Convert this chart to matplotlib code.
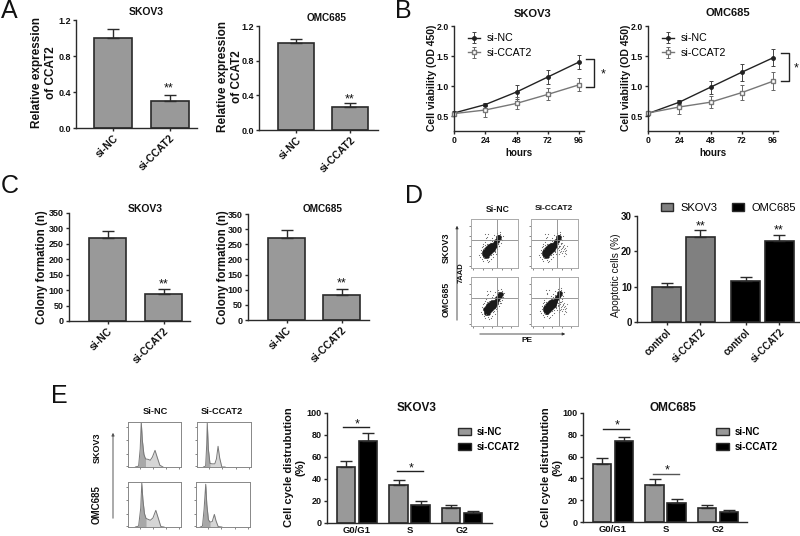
import matplotlib
matplotlib.use('Agg')
import matplotlib.pyplot as plt
import numpy as np
from matplotlib.lines import Line2D
from matplotlib.patches import Patch, FancyArrowPatch

plt.rcParams['font.family'] = ['Liberation Sans', 'DejaVu Sans']

W = 800
H = 536

# A
a_labels = ['si-NC', 'si-CCAT2']
a1_vals = [1.0, 0.30]
a1_errs = [0.10, 0.07]
a2_vals = [1.0, 0.27]
a2_errs = [0.05, 0.04]

# B
hours = [0, 24, 48, 72, 96]
b1_nc = [0.55, 0.69, 0.90, 1.15, 1.40]
b1_nc_err = [0.03, 0.03, 0.11, 0.11, 0.11]
b1_cc = [0.54, 0.60, 0.71, 0.86, 1.02]
b1_cc_err = [0.03, 0.12, 0.10, 0.10, 0.11]
b2_nc = [0.54, 0.73, 0.98, 1.23, 1.47]
b2_nc_err = [0.03, 0.03, 0.11, 0.14, 0.14]
b2_cc = [0.55, 0.65, 0.73, 0.89, 1.08]
b2_cc_err = [0.03, 0.11, 0.10, 0.13, 0.15]

# C
c1_vals = [270, 88]
c1_errs = [22, 15]
c2_vals = [270, 83]
c2_errs = [27, 21]

# D
d_labels = ['control', 'si-CCAT2', 'control', 'si-CCAT2']
d_vals = [10, 24, 11.5, 23]
d_errs = [1.1, 1.9, 1.3, 1.5]

# E
e_groups = ['G0/G1', 'S', 'G2']
e1_nc = [51, 35, 14]
e1_nc_err = [5, 4, 2]
e1_cc = [75, 16, 9]
e1_cc_err = [7, 4, 2]
e2_nc = [53, 34, 13]
e2_nc_err = [6, 5, 3]
e2_cc = [74, 17, 9]
e2_cc_err = [4, 4, 2]

# flow plots, read by eye in panel fractions
core_x = [.28, .30, .32, .34, .36, .38, .40, .42, .44, .46, .48, .50, .31, .33, .35, .37, .39, .41, .43, .45, .47,
          .52, .55, .58, .60, .27, .30, .34, .38, .42, .46, .36, .40, .44, .33, .29, .53, .57]
core_y = [.28, .31, .33, .30, .36, .34, .40, .38, .43, .41, .47, .45, .27, .36, .31, .39, .37, .43, .41, .46, .44,
          .51, .55, .60, .64, .33, .36, .40, .44, .47, .38, .29, .33, .37, .25, .25, .55, .63]
sparse_x = [.20, .24, .27, .30, .22, .34, .38, .42, .46, .52, .56, .60, .64, .68, .33, .37, .26, .49, .55, .44, .40,
            .48, .58, .62, .36, .29, .53, .30, .25, .66, .18, .23, .28, .33, .43, .47, .51, .55, .59, .63, .21, .35,
            .41, .45, .50, .54, .61, .31, .26, .39]
sparse_y = [.22, .18, .38, .46, .30, .20, .24, .18, .28, .34, .38, .45, .52, .66, .64, .70, .14, .58, .72, .62, .52,
            .68, .50, .70, .12, .54, .28, .70, .44, .58, .26, .42, .22, .16, .26, .22, .32, .42, .44, .60, .36, .48,
            .58, .56, .60, .66, .74, .62, .50, .15]
extra_x = [.60, .64, .68, .72, .62, .66, .70, .74, .60, .64, .68, .72, .58, .76, .66, .70, .62, .66, .70, .64, .68,
           .72, .60, .74]
extra_y = [.36, .38, .34, .40, .44, .30, .46, .36, .28, .48, .42, .30, .40, .44, .52, .24, .32, .40, .38, .35, .45,
           .34, .42, .28]

# cycle histograms, read by eye in panel fractions
h1_x = [.14, .20, .23, .25, .27, .30, .33, .38, .42, .46, .51, .55, .60, .66]
h1_y = [0, .02, .40, 1.0, .60, .28, .18, .17, .15, .22, .37, .22, .04, 0]
h2_x = [.12, .16, .18, .19, .21, .24, .28, .33, .36, .39, .42, .46, .52]
h2_y = [0, .02, .50, .98, .40, .08, .07, .07, .18, .46, .20, 0, 0]
h3_x = [.14, .20, .24, .26, .28, .31, .34, .38, .42, .47, .525, .57, .62, .68]
h3_y = [0, .02, .42, .98, .62, .30, .19, .17, .15, .20, .37, .20, .01, 0]
h4_x = [.08, .12, .15, .18, .20, .23, .26, .30, .34, .37, .41, .48]
h4_y = [0, .02, .40, .95, .50, .16, .11, .12, .28, .14, .01, 0]

GREY = '#999999'
DARK = '#2a2a2a'
fig = plt.figure(figsize=(8, 5.36), dpi=100)


def make_ax(x0, y0, x1, y1, tick_size=6.5):
    ax = fig.add_axes([x0 / W, 1 - y1 / H, (x1 - x0) / W, (y1 - y0) / H])
    ax.spines['top'].set_visible(False)
    ax.spines['right'].set_visible(False)
    ax.spines['left'].set_linewidth(1)
    ax.spines['bottom'].set_linewidth(1)
    ax.spines['left'].set_color(DARK)
    ax.spines['bottom'].set_color(DARK)
    ax.tick_params(length=2.5, width=1, pad=1.2, labelsize=tick_size, color=DARK, labelcolor='#111111')
    return ax


def txt(x, y, s, size=7, weight='bold', rot=0, ha='center', va='center', color='#111111'):
    fig.text(x / W, 1 - y / H, s, fontsize=size, fontweight=weight, rotation=rot, ha=ha, va=va,
             color=color, linespacing=1.15)


def pxline(xs, ys, color='#222222', lw=1):
    fig.add_artist(Line2D([x / W for x in xs], [1 - y / H for y in ys], color=color, lw=lw))


def arrow(p0, p1, color='#333333', lw=0.6):
    fig.add_artist(FancyArrowPatch((p0[0] / W, 1 - p0[1] / H), (p1[0] / W, 1 - p1[1] / H),
                                   transform=fig.transFigure, arrowstyle='-|>', mutation_scale=4,
                                   lw=lw, color=color))


def bold_ticks(ax):
    for t in ax.get_xticklabels() + ax.get_yticklabels():
        t.set_fontweight('bold')


def draw_bars(ax, pos, vals, errs, width, colors):
    ax.bar(pos, vals, width, color=colors, edgecolor=DARK, linewidth=1.2,
           yerr=[np.zeros(len(vals)), errs], capsize=4.5,
           error_kw={'elinewidth': 1, 'capthick': 1, 'ecolor': DARK})


def two_bars(box, c0, c1, bar_w, vals, errs, ymax, yticks):
    ax = make_ax(*box)
    unit = c1 - c0
    draw_bars(ax, [0, 1], vals, errs, bar_w / unit, GREY)
    ax.set_xlim((box[0] - c0) / unit, (box[2] - c0) / unit)
    ax.set_ylim(0, ymax)
    ax.set_yticks(yticks)
    ax.set_xticks([0, 1])
    ax.set_xticklabels(a_labels, rotation=45, ha='right', va='top', rotation_mode='anchor', fontsize=7.5)
    bold_ticks(ax)
    return ax


# panel A
ax = two_bars((76, 20, 197, 128), 113, 169.5, 38, a1_vals, a1_errs, 1.2, [0, 0.4, 0.8, 1.2])
ax = two_bars((259, 26, 378, 130), 296, 350, 36, a2_vals, a2_errs, 1.2, [0, 0.4, 0.8, 1.2])
txt(146, 12, 'SKOV3', 7.5)
txt(327, 18, 'OMC685', 7.2)
txt(44, 73, 'Relative expression\nof CCAT2', 8.5, rot=90)
txt(230, 77, 'Relative expression\nof CCAT2', 8.5, rot=90)
txt(169, 88, '**', 9, weight='normal')
txt(350, 99, '**', 9, weight='normal')


# panel B
def line_panel(box, nc, nc_err, cc, cc_err, legend_box):
    ax = make_ax(*box, tick_size=6.3)
    ax.errorbar(hours, nc, yerr=nc_err, color='#222222', lw=1, marker='o', ms=2.5, capsize=1.5,
                elinewidth=0.7, capthick=0.7, ecolor='#444444', clip_on=False, label='si-NC')
    ax.errorbar(hours, cc, yerr=cc_err, color='#777777', lw=1, marker='s', ms=3, mfc='white',
                capsize=1.5, elinewidth=0.7, capthick=0.7, ecolor='#666666', clip_on=False, label='si-CCAT2')
    ax.set_xlim(0, 99.8)
    ax.set_ylim(0.25, 2.0)
    ax.set_xticks(hours)
    ax.set_yticks([0.5, 1.0, 1.5, 2.0])
    ax.set_yticklabels(['0.5', '1.0', '1.5', '2.0'])
    bold_ticks(ax)
    ax.legend(loc='upper left', bbox_to_anchor=legend_box, frameon=False, fontsize=7.7, handlelength=1.15,
              handletextpad=0.6, labelspacing=0.45, borderpad=0, borderaxespad=0)


line_panel((454, 26, 584, 131), b1_nc, b1_nc_err, b1_cc, b1_cc_err, (0.105, 0.93))
line_panel((648, 26, 778, 131), b2_nc, b2_nc_err, b2_cc, b2_cc_err, (0.105, 0.93))
txt(533, 14, 'SKOV3', 8)
txt(728, 13, 'OMC685', 8)
txt(432, 78, 'Cell viability (OD 450)', 7.5, rot=90)
txt(626, 78, 'Cell viability (OD 450)', 7.5, rot=90)
txt(519, 153, 'hours', 7)
txt(713, 153, 'hours', 7)
pxline([586, 594, 594, 586], [59, 59, 87, 87])
pxline([781, 789, 789, 781], [53, 53, 81, 81])
txt(603, 74, '*', 9, weight='normal')
txt(796, 68, '*', 9, weight='normal')

# panel C
ax = two_bars((69, 213, 190, 321), 107.5, 163.5, 37.5, c1_vals, c1_errs, 350, range(0, 351, 50))
ax = two_bars((248, 214, 369, 320), 286.5, 341.5, 37, c2_vals, c2_errs, 350, range(0, 351, 50))
txt(145, 209, 'SKOV3', 7.5)
txt(323, 209, 'OMC685', 7.2)
txt(42, 267, 'Colony formation (n)', 8.3, rot=90)
txt(223, 267, 'Colony formation (n)', 8.3, rot=90)
txt(164, 284, '**', 9, weight='normal')
txt(342, 283, '**', 9, weight='normal')


# panel D, flow plots
def flow_panel(box, vx, hy, dx=0.0, dy=0.0, extra=False):
    ax = fig.add_axes([box[0] / W, 1 - box[3] / H, (box[2] - box[0]) / W, (box[3] - box[1]) / H])
    ax.scatter(np.array(core_x) + dx, np.array(core_y) + dy, s=11, color='#1a1a1a', lw=0)
    ax.scatter(np.array(sparse_x) + dx, np.array(sparse_y) + dy, s=0.7, color='#666666', lw=0)
    if extra:
        ax.scatter(extra_x, extra_y, s=0.7, color='#777777', lw=0)
    ax.axvline(vx, color='#888888', lw=0.6)
    ax.axhline(hy, color='#888888', lw=0.6)
    ax.set_xlim(0, 1)
    ax.set_ylim(0, 1)
    ax.set_xticks([0.05, 0.25, 0.45, 0.65, 0.85])
    ax.set_yticks([0.05, 0.25, 0.45, 0.65, 0.85])
    ax.tick_params(length=1.5, width=0.5, color='#555555', labelbottom=False, labelleft=False)
    for s in ax.spines.values():
        s.set_color('#aaaaaa')
        s.set_linewidth(0.7)


flow_panel((471, 219, 518, 268), .55, .57)
flow_panel((531, 219, 578, 268), .55, .57, extra=True)
flow_panel((471, 277, 518, 326), .55, .57, dx=.03, dy=.02)
flow_panel((531, 277, 578, 326), .60, .57, dx=.02, dy=.04, extra=True)
arrow((457, 323), (457, 223))
arrow((477, 334), (568, 334))
txt(498, 209, 'Si-NC', 6.2)
txt(554, 209, 'Si-CCAT2', 6)
txt(446, 248, 'SKOV3', 6.5, rot=90)
txt(446, 299, 'OMC685', 6.3, rot=90)
txt(461, 273, '7AAD', 5.5, rot=90)
txt(527, 341, 'PE', 6)

# panel D, bars
ax = make_ax(637, 216, 800, 322, tick_size=7)
d_pos = [-0.215, 0.215, 0.785, 1.215]
draw_bars(ax, d_pos, d_vals, d_errs, 29 / 79, ['#808080', '#808080', 'black', 'black'])
ax.set_xlim((637 - 683.5) / 79, (800 - 683.5) / 79)
ax.set_ylim(0, 30)
ax.set_yticks([0, 10, 20, 30])
ax.set_xticks(d_pos)
ax.set_xticklabels(d_labels, rotation=45, ha='right', va='top', rotation_mode='anchor', fontsize=7)
bold_ticks(ax)
ax.legend(handles=[Patch(fc='#808080', ec=DARK, label='SKOV3'), Patch(fc='black', ec=DARK, label='OMC685')],
          ncol=2, frameon=False, fontsize=8, loc='lower left', bbox_to_anchor=(24 / 163, 1.03), borderpad=0,
          borderaxespad=0, handlelength=1.1, handleheight=0.75, handletextpad=0.64, columnspacing=1.3)
txt(616, 275, 'Apoptotic cells (%)', 7.3, weight='normal', rot=90)
txt(701, 226, '**', 9, weight='normal')
txt(779, 230, '**', 9, weight='normal')


# panel E, histograms
def hist_panel(box, xs, ys, split):
    ax = fig.add_axes([box[0] / W, 1 - box[3] / H, (box[2] - box[0]) / W, (box[3] - box[1]) / H])
    xs = np.array(xs)
    ys = np.array(ys)
    ax.fill_between(xs, 0, ys, color='#d6d6d6', lw=0)
    ax.fill_between(xs[xs <= split], 0, ys[xs <= split], color='#a8a8a8', lw=0)
    ax.plot(xs, ys, color='#777777', lw=0.7)
    ax.set_xlim(0, 1)
    ax.set_ylim(0, 1.0)
    ax.set_xticks([0.22, 0.47, 0.72, 0.97])
    ax.set_yticks([0.02, 0.3, 0.6, 0.9])
    ax.tick_params(length=1.5, width=0.5, color='#555555', labelbottom=False, labelleft=False)
    for s in ax.spines.values():
        s.set_color('#888888')
        s.set_linewidth(0.7)


hist_panel((128, 422, 181, 467), h1_x, h1_y, .33)
hist_panel((197, 422, 251, 467), h2_x, h2_y, .24)
hist_panel((128, 482, 181, 527), h3_x, h3_y, .34)
hist_panel((196, 482, 250, 527), h4_x, h4_y, .26)
arrow((113, 521), (113, 430), color='#555555', lw=0.7)
txt(155, 411, 'Si-NC', 6.7)
txt(222, 411, 'Si-CCAT2', 6.7)
txt(97, 448, 'SKOV3', 6.5, rot=90)
txt(97, 505, 'OMC685', 7, rot=90)


# panel E, bars
def cycle_panel(box, c0, nc, nc_err, cc, cc_err, legend_x):
    ax = make_ax(*box)
    unit = 52.5
    groups = np.arange(len(e_groups))
    off = 11 / unit
    draw_bars(ax, groups - off, nc, nc_err, 18.5 / unit, GREY)
    draw_bars(ax, groups + off, cc, cc_err, 18.5 / unit, 'black')
    ax.set_xlim((box[0] - c0) / unit, (box[2] - c0) / unit)
    ax.set_ylim(0, 100)
    ax.set_yticks(range(0, 101, 20))
    ax.set_xticks(groups)
    ax.set_xticklabels(e_groups, fontsize=6.8)
    ax.tick_params(axis='x', length=0, pad=2)
    bold_ticks(ax)
    ax.legend(handles=[Patch(fc=GREY, ec=DARK, label='si-NC'), Patch(fc='black', ec=DARK, label='si-CCAT2')],
              frameon=False, loc='upper left', bbox_to_anchor=((legend_x - box[0]) / (box[2] - box[0]), 0.87),
              prop={'size': 7, 'weight': 'bold'}, borderpad=0, borderaxespad=0, handlelength=1.34,
              handleheight=0.75, handletextpad=0.6, labelspacing=0.45)


cycle_panel((327, 413, 492, 523), 357, e1_nc, e1_nc_err, e1_cc, e1_cc_err, 458)
cycle_panel((583, 413, 747, 522), 613, e2_nc, e2_nc_err, e2_cc, e2_cc_err, 716)
txt(417, 408, 'SKOV3', 8.5)
txt(673, 408, 'OMC685', 8.5)
txt(295, 467, 'Cell cycle distrubution\n(%)', 8, rot=90)
txt(552, 467, 'Cell cycle distrubution\n(%)', 8, rot=90)
pxline([343, 369], [427, 427])
pxline([397, 423], [471, 471])
pxline([603, 629], [429, 429])
pxline([653, 679], [474, 474], color='#555555')
txt(357, 424, '*', 9, weight='normal')
txt(411, 468, '*', 9, weight='normal')
txt(617, 425, '*', 9, weight='normal')
txt(667, 470, '*', 9, weight='normal')

# panel letters
txt(1, 18, 'A', 18, weight='normal', ha='left', va='baseline')
txt(395, 18.5, 'B', 18, weight='normal', ha='left', va='baseline')
txt(1, 193, 'C', 18, weight='normal', ha='left', va='baseline')
txt(405, 203, 'D', 18, weight='normal', ha='left', va='baseline')
txt(51, 403, 'E', 18, weight='normal', ha='left', va='baseline')

fig.savefig('out.png', dpi=100)
